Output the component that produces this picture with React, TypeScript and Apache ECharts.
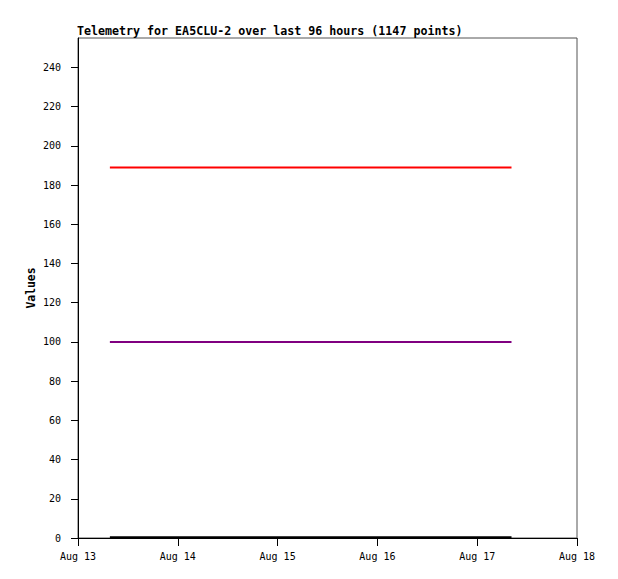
import React, { useEffect, useRef } from "react";
import * as echarts from "echarts";

const TITLE = "Telemetry for EA5CLU-2 over last 96 hours (1147 points)";
const Y_NAME = "Values";
const MONTH = "Aug";

const X_MIN = Date.UTC(2024, 7, 13);
const X_MAX = Date.UTC(2024, 7, 18);
const DAY = 86400000;

const times = [Date.UTC(2024, 7, 13, 7, 40), Date.UTC(2024, 7, 17, 8, 15)];
const redValues = [189, 189];
const purpleValues = [100, 100];
const blackValues = [0.4, 0.4];

const FONT = "'DejaVu Sans Mono', 'Liberation Mono', monospace";

export default function App() {
  const ref = useRef<HTMLDivElement>(null);
  useEffect(() => {
    if (!ref.current) return;
    const chart = echarts.init(ref.current, undefined, { renderer: "svg" });
    const mk = (vals: number[], color: string) => ({
      type: "line",
      data: times.map((t, i) => [t, vals[i]]),
      showSymbol: false,
      lineStyle: { color, width: 2 },
      itemStyle: { color },
    });
    chart.setOption({
      animation: false,
      backgroundColor: "#ffffff",
      title: {
        text: TITLE,
        left: 72,
        top: 20,
        textStyle: { fontFamily: FONT, fontSize: 11.65, fontWeight: "bold", color: "#000" },
      },
      graphic: [
        {
          type: "text",
          x: 31,
          y: 288,
          rotation: Math.PI / 2,
          style: {
            text: Y_NAME,
            font: "bold 11.4px " + FONT,
            fill: "#000",
            align: "center",
            verticalAlign: "middle",
          },
        },
      ],
      grid: {
        left: 78,
        right: 41,
        top: 38,
        bottom: 41,
        show: true,
        borderColor: "#555",
        borderWidth: 1,
        backgroundColor: "#fff",
      },
      xAxis: {
        type: "value",
        min: X_MIN,
        max: X_MAX,
        interval: DAY,
        axisLine: { show: true, lineStyle: { color: "#000", width: 1 } },
        axisTick: { show: true, length: 8, lineStyle: { color: "#000" } },
        splitLine: { show: false },
        axisLabel: {
          fontFamily: FONT,
          fontSize: 10,
          color: "#000",
          margin: 13,
          formatter: (v: number) => MONTH + " " + new Date(v).getUTCDate(),
        },
      },
      yAxis: {
        type: "value",
        min: 0,
        max: 255,
        interval: 20,
        axisLine: { show: true, lineStyle: { color: "#000", width: 1 } },
        axisTick: { show: true, length: 7, lineStyle: { color: "#000" } },
        splitLine: { show: false },
        axisLabel: {
          fontFamily: FONT,
          fontSize: 10,
          color: "#000",
          margin: 17,
          showMaxLabel: false,
        },
      },
      series: [mk(redValues, "#ff0000"), mk(purpleValues, "#800080"), mk(blackValues, "#000000")],
    });
    return () => chart.dispose();
  }, []);
  return (
    <div
      ref={ref}
      style={{ position: "fixed", left: 0, top: 0, width: 618, height: 579, background: "#fff" }}
    />
  );
}
